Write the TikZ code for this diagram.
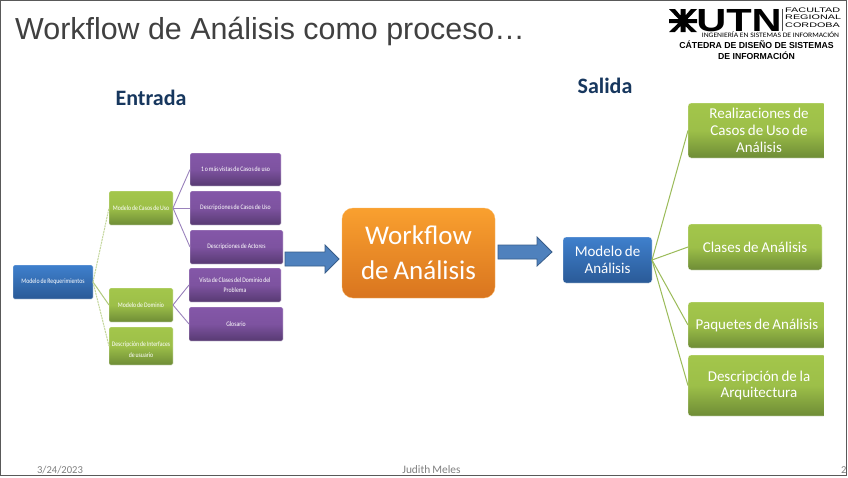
\documentclass[tikz,border=0pt]{standalone}
\usepackage{fontspec}
\setmainfont[WordSpace=0.8]{Carlito}
\newfontfamily\arialf{Liberation Sans}
\newfontfamily\narrowf[FakeStretch=0.84,WordSpace=0.7]{Carlito}
\newfontfamily\widef[FakeStretch=1.64]{Liberation Sans}
\newfontfamily\utnf[FakeStretch=1.3]{Liberation Sans}
\newfontfamily\ingf[FakeStretch=1.12]{Carlito}
\definecolor{grnT}{HTML}{A3C64B}
\definecolor{grnB}{HTML}{6E8C36}
\definecolor{purT}{HTML}{8457A8}
\definecolor{purB}{HTML}{573A72}
\definecolor{bluT}{HTML}{3F80CD}
\definecolor{bluB}{HTML}{2A5A97}
\definecolor{ornT}{HTML}{F9A02F}
\definecolor{ornB}{HTML}{D9751F}
\definecolor{arrowblue}{HTML}{4F81BD}
\definecolor{arrowedge}{HTML}{385D8A}
\definecolor{navyt}{HTML}{17375E}
\definecolor{greenline}{HTML}{9BBB59}
\definecolor{purpleline}{HTML}{9A82BC}
\tikzset{
 x=1pt,y=-1pt,
 card/.style={anchor=north west,inner sep=0pt,outer sep=0pt,rounded corners=1.5pt,align=center,text=white,draw=white,line width=.3pt},
 greencard/.style={card,top color=grnT,bottom color=grnB,middle color=grnT!88!grnB,font=\fontsize{15}{16.8}\selectfont},
 smallgreen/.style={card,top color=grnT,bottom color=grnB,middle color=grnT!88!grnB,font=\narrowf\fontsize{6.9}{11}\selectfont},
 purplecard/.style={card,top color=purT,bottom color=purB,middle color=purT!85!purB,font=\narrowf\fontsize{6.9}{10.5}\selectfont},
 bluecard/.style={card,top color=bluT,bottom color=bluB},
 greenlink/.style={draw=greenline,line width=1pt},
 softlink/.style={draw=greenline!60,line width=1pt,dash pattern=on 2pt off .8pt},
 purplelink/.style={draw=purpleline,line width=.9pt},
 bigarrow/.style={draw=arrowedge,fill=arrowblue,line width=.8pt},
 heading/.style={text=navyt,font=\fontsize{22}{26}\bfseries\selectfont,inner sep=0pt},
 footer/.style={text=black!50,inner sep=0pt}
}
\newcommand{\cardbox}[7]{%name,style,x0,y0,x1,y1,text
 \node[#2,minimum width=#5pt-#3pt,minimum height=#6pt-#4pt] (#1) at (#3,#4) {#7};}
\begin{document}
\begin{tikzpicture}
\useasboundingbox (0,0) rectangle (848,477);
\fill[white] (0,0) rectangle (848,477);
% slide edges
\draw[black!65,line width=1.2pt] (0.5,0.5) rectangle (846.8,475.8);
% title
\node[anchor=west,inner sep=0pt,text=black!75,font=\arialf\fontsize{30.4}{36}\selectfont] (title) at (15,31) {Workflow de Análisis como proceso…};
% logo
\fill[black] (669,9) -- (675,9) -- (680.5,15.5) -- (680.5,9) -- (685.5,9) -- (685.5,15.5) -- (691,9) -- (697,9) -- (687.5,19) -- (697,19) -- (697,23) -- (687.5,23) -- (697,32) -- (691,32) -- (685.5,26) -- (685.5,32) -- (680.5,32) -- (680.5,26) -- (675,32) -- (669,32) -- (678.5,23) -- (669,23) -- (669,19) -- (678.5,19) -- cycle;
\node[inner sep=0pt,font=\utnf\bfseries\fontsize{32}{32}\selectfont] (utn) at (739,20.5) {UTN};
\fill[black!70] (782,9) rectangle (782.6,31);
\node[anchor=north west,inner sep=0pt,align=left,font=\widef\fontsize{6.6}{7.7}\selectfont] (frc) at (785,7.2) {FACULTAD\\REGIONAL\\CORDOBA};
\node[inner sep=0pt,font=\ingf\fontsize{6.8}{8}\selectfont] (ing) at (770.5,34.6) {INGENIERÍA EN SISTEMAS DE INFORMACIÓN};
\node[inner sep=0pt,align=center,font=\arialf\bfseries\fontsize{8.7}{11}\selectfont] (cat) at (756.5,50.5) {CÁTEDRA DE DISEÑO DE SISTEMAS\\DE INFORMACIÓN};
% headings
\node[heading] (ent) at (151,98) {Entrada};
\node[heading] (sal) at (605,86) {Salida};
% left tree
\cardbox{req}{bluecard,font=\narrowf\fontsize{6.9}{10}\selectfont}{13}{265}{93}{299}{Modelo de Requerimientos}
\cardbox{g1}{smallgreen}{109}{191}{173}{225}{Modelo de Casos de Uso}
\cardbox{g2}{smallgreen}{109}{288}{173}{322}{Modelo de Dominio}
\cardbox{g3}{smallgreen}{109}{327}{173}{365}{\rule{0pt}{13pt}Descripción de Interfaces\\de usuario}
\cardbox{p1}{purplecard}{190}{153}{281}{186}{1 o más vistas de Casos de uso}
\cardbox{p2}{purplecard}{190}{191}{281}{225}{Descripciones de Casos de Uso}
\cardbox{p3}{purplecard}{190}{230}{283}{264}{Descripciones de Actores}
\cardbox{p4}{purplecard}{189}{268}{281}{302}{Vista de Clases del Dominio del\\Problema}
\cardbox{p5}{purplecard}{189}{307}{283}{341}{Glosario}
\draw[softlink] (req.east) -- (g1.west);
\draw[greenlink,draw=greenline!80] (req.east) -- (g2.west);
\draw[softlink] (req.east) -- (g3.west);
\draw[purplelink] (g1.east) -- (p1.west);
\draw[purplelink] (g1.east) -- (p2.west);
\draw[purplelink] (g1.east) -- (p3.west);
\draw[purplelink] (g2.east) -- (p4.west);
\draw[purplelink] (g2.east) -- (p5.west);
% centre
\node[card,minimum width=153pt,minimum height=90pt,rounded corners=11pt,top color=ornT,bottom color=ornB,draw=ornT!70!white,font=\fontsize{27}{35}\selectfont] (wf) at (342,208) {Workflow\\de Análisis};
\cardbox{ma}{bluecard,rounded corners=3pt,font=\fontsize{15}{17}\selectfont}{563}{237}{652}{283}{Modelo de\\Análisis}
\coordinate (a1s) at (285,259);
\coordinate (a2s) at (498,252);
\draw[bigarrow] (a1s) ++(0,-7) -- (325,252) -- (325,245) -- (339,259) -- (325,273) -- (325,266) -- (285,266) -- cycle;
\draw[bigarrow] (a2s) ++(0,-7) -- (537,245) -- (537,237) -- (552,252) -- (537,266) -- (537,259) -- (498,259) -- cycle;
% right tree: cards cut off at the right
\begin{scope}
\clip (680,95) rectangle (823.5,420);
\cardbox{r1}{greencard,rounded corners=3pt}{688}{103}{830}{158}{Realizaciones de\\Casos de Uso de\\Análisis}
\cardbox{r3}{greencard,rounded corners=3pt}{688}{302}{826}{348}{Paquetes de Análisis}
\cardbox{r4}{greencard,rounded corners=3pt}{688}{355}{830}{416}{Descripción de la\\Arquitectura}
\end{scope}
\cardbox{r2}{greencard,rounded corners=3pt}{688}{224}{822}{270}{Clases de Análisis}
\draw[greenlink] (ma.east) -- (r1.west);
\draw[greenlink] (ma.east) -- (r2.west);
\draw[greenlink] (ma.east) -- (r3.west);
\draw[greenlink] (ma.east) -- (r4.west);
% footer
\node[footer,font=\fontsize{10.6}{12}\selectfont] (fd) at (60,470) {3/24/2023};
\node[footer,font=\fontsize{11.4}{13}\selectfont] (fn) at (431.5,470) {Judith Meles};
\node[footer,font=\fontsize{10.6}{12}\selectfont,anchor=west] (fp) at (841,470) {2};
\end{tikzpicture}
\end{document}
